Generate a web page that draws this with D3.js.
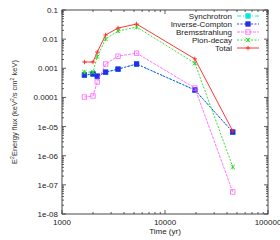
<!DOCTYPE html>
<html>
<head>
<meta charset="utf-8">
<script src="https://cdn.jsdelivr.net/npm/d3@7"></script>
<style>
body { margin: 0; background: #fff; }
text { font-family: "Liberation Sans", Arial, sans-serif; }
</style>
</head>
<body>
<script>
// time in years
var times = [1650, 2000, 2200, 2650, 3500, 5300, 19500, 45500];
var synchrotron = [0.00058, 0.00063, 0.00053, 0.00073, 0.00093, 0.0014, 0.00018, 6.4e-6];
var inverseCompton = [0.00059, 0.00064, 0.00054, 0.00074, 0.00094, 0.0014, 0.00018, 6.5e-6];
var bremsstrahlung = [0.000103, 0.000112, 0.00034, 0.0014, 0.0026, 0.0033, 0.00021, 5.7e-8];
var pionDecay = [0.00074, 0.00074, 0.0025, 0.0101, 0.019, 0.026, 0.0015, 4.1e-7];
var total = [0.00164, 0.00164, 0.0036, 0.0139, 0.024, 0.033, 0.0021, 7e-6];
var yTicks = [0.1, 0.01, 0.001, 0.0001, 1e-5, 1e-6, 1e-7, 1e-8];
var yTickLabels = ["0.1", "0.01", "0.001", "0.0001", "1e-05", "1e-06", "1e-07", "1e-08"];
var xTicks = [1000, 10000, 100000];

var series = [
  {name: "Synchrotron", values: synchrotron, color: "#00e5e5", dash: "4,2,1,2", mark: "fsquare"},
  {name: "Inverse-Compton", values: inverseCompton, color: "#2a2ae8", dash: "2,1.5", mark: "fsquare"},
  {name: "Bremsstrahlung", values: bremsstrahlung, color: "#ff66ff", dash: "3,1", mark: "osquare"},
  {name: "Pion-decay", values: pionDecay, color: "#22dd22", dash: "2,1.5", mark: "star"},
  {name: "Total", values: total, color: "#ff2020", dash: null, mark: "plus"}
];

var W = 280, H = 240;
var pL = 62, pR = 268, pT = 10, pB = 214;

var svg = d3.select("body").append("svg").attr("width", W).attr("height", H);

var x = d3.scaleLog().domain([1000, 100000]).range([pL, pR]);
var y = d3.scaleLog().domain([1e-8, 0.1]).range([pB, pT]);

var axisColor = "#333";

// minor + major ticks, mirrored inward
var xMinor = [], yMinor = [];
for (var e = 3; e < 5; e++) for (var m = 2; m <= 9; m++) xMinor.push(m * Math.pow(10, e));
for (var e2 = -8; e2 < -1; e2++) for (var m2 = 2; m2 <= 9; m2++) yMinor.push(m2 * Math.pow(10, e2));

var ticks = svg.append("g").attr("stroke", axisColor).attr("stroke-width", 0.8);
xMinor.forEach(function(v) {
  ticks.append("line").attr("x1", x(v)).attr("x2", x(v)).attr("y1", pB).attr("y2", pB - 2);
  ticks.append("line").attr("x1", x(v)).attr("x2", x(v)).attr("y1", pT).attr("y2", pT + 2);
});
xTicks.forEach(function(v) {
  ticks.append("line").attr("x1", x(v)).attr("x2", x(v)).attr("y1", pB).attr("y2", pB - 4);
  ticks.append("line").attr("x1", x(v)).attr("x2", x(v)).attr("y1", pT).attr("y2", pT + 4);
});
yMinor.forEach(function(v) {
  ticks.append("line").attr("x1", pL).attr("x2", pL + 2).attr("y1", y(v)).attr("y2", y(v));
  ticks.append("line").attr("x1", pR).attr("x2", pR - 2).attr("y1", y(v)).attr("y2", y(v));
});
yTicks.forEach(function(v) {
  ticks.append("line").attr("x1", pL).attr("x2", pL + 4).attr("y1", y(v)).attr("y2", y(v));
  ticks.append("line").attr("x1", pR).attr("x2", pR - 4).attr("y1", y(v)).attr("y2", y(v));
});

svg.append("rect").attr("x", pL).attr("y", pT)
  .attr("width", pR - pL).attr("height", pB - pT)
  .attr("fill", "none").attr("stroke", axisColor).attr("stroke-width", 0.9);

svg.append("g").selectAll("text").data(yTicks).join("text")
  .attr("x", pL - 4).attr("y", function(d) { return y(d) + 3; })
  .attr("text-anchor", "end").attr("font-size", 8).attr("fill", "#222")
  .text(function(d, i) { return yTickLabels[i]; });

svg.append("g").selectAll("text").data(xTicks).join("text")
  .attr("x", function(d) { return x(d); }).attr("y", pB + 11)
  .attr("text-anchor", "middle").attr("font-size", 8).attr("fill", "#222")
  .text(function(d) { return d; });

svg.append("text").attr("x", (pL + pR) / 2).attr("y", 234)
  .attr("text-anchor", "middle").attr("font-size", 8).attr("fill", "#222")
  .text("Time (yr)");

var yl = svg.append("text")
  .attr("transform", "translate(17," + ((pT + pB) / 2) + ") rotate(-90)")
  .attr("text-anchor", "middle").attr("font-size", 7.5).attr("fill", "#333");
yl.append("tspan").text("E");
yl.append("tspan").attr("font-size", 5).attr("dy", -3).text("2");
yl.append("tspan").attr("dy", 3).text("Energy flux (keV");
yl.append("tspan").attr("font-size", 5).attr("dy", -3).text("2");
yl.append("tspan").attr("dy", 3).text("/s cm");
yl.append("tspan").attr("font-size", 5).attr("dy", -3).text("2");
yl.append("tspan").attr("dy", 3).text(" keV)");

function drawMark(g, kind, px, py, color) {
  var s = 2.2;
  if (kind === "fsquare" || kind === "osquare") {
    g.append("rect").attr("x", px - s).attr("y", py - s).attr("width", 2 * s).attr("height", 2 * s)
      .attr("fill", kind === "fsquare" ? color : "none").attr("stroke", color).attr("stroke-width", 0.8);
  } else if (kind === "star") {
    g.append("path").attr("d", "M" + (px - s) + "," + (py - s) + "L" + (px + s) + "," + (py + s) +
      "M" + (px - s) + "," + (py + s) + "L" + (px + s) + "," + (py - s) +
      "M" + px + "," + (py - s) + "L" + px + "," + (py + s))
      .attr("stroke", color).attr("stroke-width", 0.9).attr("fill", "none");
  } else {
    g.append("path").attr("d", "M" + (px - s) + "," + py + "L" + (px + s) + "," + py +
      "M" + px + "," + (py - s) + "L" + px + "," + (py + s))
      .attr("stroke", color).attr("stroke-width", 0.9).attr("fill", "none");
  }
}

var line = d3.line().x(function(d, i) { return x(times[i]); }).y(function(d) { return y(d); });

series.forEach(function(s) {
  var g = svg.append("g");
  g.append("path").datum(s.values).attr("d", line)
    .attr("fill", "none").attr("stroke", s.color).attr("stroke-width", 0.9)
    .attr("stroke-dasharray", s.dash);
  s.values.forEach(function(v, i) { drawMark(g, s.mark, x(times[i]), y(v), s.color); });
});

// legend
var lg = svg.append("g");
series.forEach(function(s, i) {
  var ly = 16 + i * 8;
  lg.append("text").attr("x", 232).attr("y", ly + 2.8).attr("text-anchor", "end")
    .attr("font-size", 8).attr("fill", "#222").text(s.name);
  lg.append("line").attr("x1", 237).attr("x2", 259).attr("y1", ly).attr("y2", ly)
    .attr("stroke", s.color).attr("stroke-width", 0.9).attr("stroke-dasharray", s.dash);
  drawMark(lg, s.mark, 248, ly, s.color);
});
</script>
</body>
</html>
